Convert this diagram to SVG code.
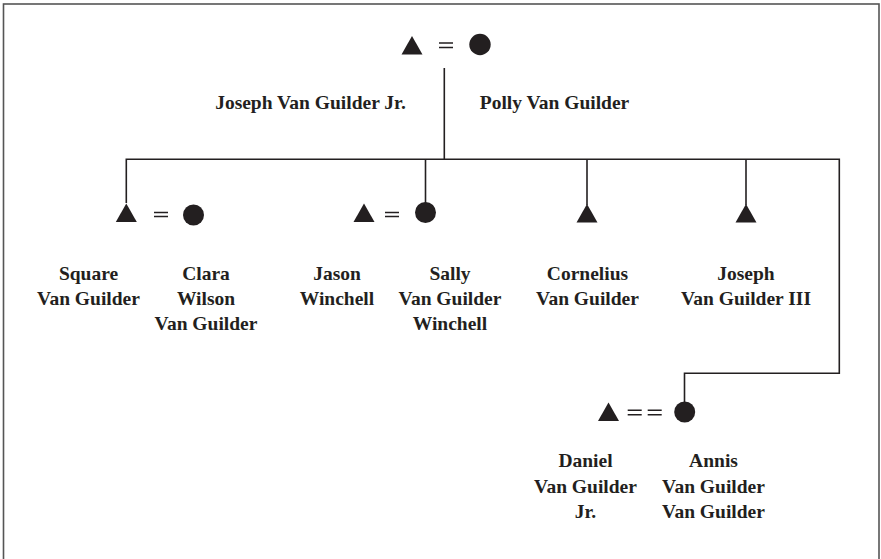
<svg xmlns="http://www.w3.org/2000/svg" width="881" height="559" viewBox="0 0 881 559">
<style>
.t{font-family:"Liberation Serif","Times New Roman",serif;font-weight:bold;font-size:19.5px;fill:#231f20;text-anchor:middle}
.ln{stroke:#231f20;stroke-width:1.6;fill:none}
.eq{stroke:#231f20;stroke-width:1.6}
.sym{fill:#231f20}
</style>
<defs>
<path id="tri" d="M0,0 L10.5,18.5 L-10.5,18.5 Z"/>
</defs>
<rect x="3.5" y="4" width="875.5" height="560" fill="#fff" stroke="#555" stroke-width="1.6"/>
<g id="connectors">
<path class="ln" d="M444.3,68 V159.3"/>
<path class="ln" d="M126.3,203 V159.3 H839.3 V373.3 H684.5 V402"/>
<path class="ln" d="M425.5,159.3 V203"/>
<path class="ln" d="M587,159.3 V205"/>
<path class="ln" d="M746,159.3 V205"/>
</g>
<g id="parents">
<use href="#tri" class="sym" x="412" y="36"/>
<path class="eq" d="M439,43 H453 M439,47.5 H453"/>
<circle class="sym" cx="480" cy="44.5" r="10.7"/>
<text class="t" x="310.5" y="109">Joseph Van Guilder Jr.</text>
<text class="t" x="554.5" y="109">Polly Van Guilder</text>
</g>
<g id="square">
<use href="#tri" class="sym" x="126.3" y="203.5"/>
<text class="t" x="88.5" y="279.5">Square</text>
<text class="t" x="88.5" y="304.5">Van Guilder</text>
</g>
<g id="clara">
<path class="eq" d="M154,212.5 H168 M154,216.5 H168"/>
<circle class="sym" cx="193.5" cy="215" r="10.5"/>
<text class="t" x="206" y="279.5">Clara</text>
<text class="t" x="206" y="304.5">Wilson</text>
<text class="t" x="206" y="330">Van Guilder</text>
</g>
<g id="jason">
<use href="#tri" class="sym" x="364" y="203.5"/>
<text class="t" x="337" y="279.5">Jason</text>
<text class="t" x="337" y="304.5">Winchell</text>
</g>
<g id="sally">
<path class="eq" d="M385,212.5 H399 M385,216.5 H399"/>
<circle class="sym" cx="425.5" cy="212.5" r="10.5"/>
<text class="t" x="450" y="279.5">Sally</text>
<text class="t" x="450" y="304.5">Van Guilder</text>
<text class="t" x="450" y="330">Winchell</text>
</g>
<g id="cornelius">
<use href="#tri" class="sym" x="587" y="204"/>
<text class="t" x="587.5" y="279.5">Cornelius</text>
<text class="t" x="587.5" y="304.5">Van Guilder</text>
</g>
<g id="joseph3">
<use href="#tri" class="sym" x="746" y="204"/>
<text class="t" x="746" y="279.5">Joseph</text>
<text class="t" x="746" y="304.5">Van Guilder III</text>
</g>
<g id="daniel">
<use href="#tri" class="sym" x="608.5" y="402.5"/>
<path class="eq" d="M627.7,410.3 H641.7 M627.7,414.8 H641.7 M647.7,410.3 H661.7 M647.7,414.8 H661.7"/>
<text class="t" x="585.5" y="467">Daniel</text>
<text class="t" x="585.5" y="492.5">Van Guilder</text>
<text class="t" x="585.5" y="517.5">Jr.</text>
</g>
<g id="annis">
<circle class="sym" cx="684.7" cy="412" r="10.5"/>
<text class="t" x="713.5" y="467">Annis</text>
<text class="t" x="713.5" y="492.5">Van Guilder</text>
<text class="t" x="713.5" y="517.5">Van Guilder</text>
</g>
</svg>
